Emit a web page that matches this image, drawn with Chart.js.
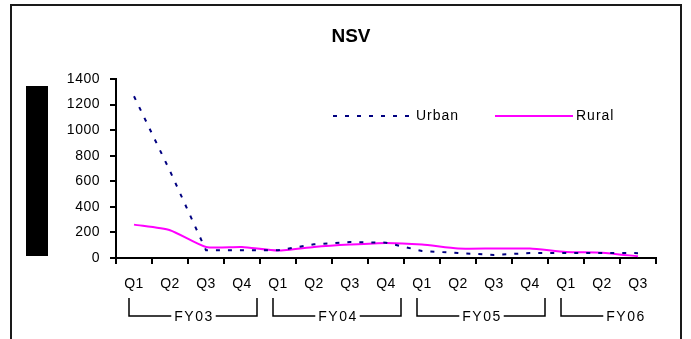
<!DOCTYPE html>
<html>
<head>
<meta charset="utf-8">
<title>NSV</title>
<script src="https://cdn.jsdelivr.net/npm/chart.js@4.4.1/dist/chart.umd.min.js"></script>
<style>
  body { margin: 0; background: #fff; }
  canvas { display: block; }
</style>
</head>
<body>
<canvas id="nsvChart" width="691" height="339"></canvas>
<script>
const quarters = ['Q1', 'Q2', 'Q3', 'Q4', 'Q1', 'Q2', 'Q3', 'Q4', 'Q1', 'Q2', 'Q3', 'Q4', 'Q1', 'Q2', 'Q3'];
const fiscalYears = ['FY03', 'FY04', 'FY05', 'FY06'];
const quartersPerYear = [4, 4, 4, 3];
const urbanValues = [1265, 680, 60, 60, 60, 107, 125, 120, 55, 39, 24, 39, 39, 40, 38];
const ruralValues = [261, 217, 86, 86, 58, 86, 105, 118, 105, 74, 74, 74, 47, 42, 13];
const yTicks = [0, 200, 400, 600, 800, 1000, 1200, 1400];

const FONT = 'Liberation Sans, Arial, sans-serif';
const ctx = document.getElementById('nsvChart').getContext('2d');

// white page, outer frame, the black block left of the axis, title
const framePlugin = {
    id: 'frame',
    beforeUpdate(chart) {
        chart.ctx.letterSpacing = '0.5px'; // excel text is drawn a bit wide
    },
    beforeDraw(chart) {
        const c = chart.ctx;
        c.save();
        c.fillStyle = '#fff';
        c.fillRect(0, 0, chart.width, chart.height);
        c.strokeStyle = '#1a1a1a';
        c.lineWidth = 2;
        c.strokeRect(11, 5, 670, 400);
        c.fillStyle = '#000';
        c.fillRect(26, 86, 22, 170);
        c.letterSpacing = '0px';
        c.font = 'bold 19px ' + FONT;
        c.textAlign = 'center';
        c.textBaseline = 'middle';
        c.fillText('NSV', 351, 37);
        c.restore();
    }
};

// legend sits inside the plot
const legendPlugin = {
    id: 'innerLegend',
    afterDraw(chart) {
        const c = chart.ctx;
        const items = [
            { ds: chart.data.datasets[0], x1: 333, x2: 410, tx: 416 },
            { ds: chart.data.datasets[1], x1: 495, x2: 573, tx: 576 }
        ];
        c.save();
        c.font = '14px ' + FONT;
        c.letterSpacing = '1px';
        c.textBaseline = 'middle';
        c.fillStyle = '#000';
        items.forEach((it) => {
            c.strokeStyle = it.ds.borderColor;
            c.lineWidth = 2;
            c.setLineDash(it.ds.borderDash || []);
            c.beginPath();
            c.moveTo(it.x1, 116);
            c.lineTo(it.x2, 116);
            c.stroke();
            c.fillText(it.ds.label, it.tx, 116);
        });
        c.restore();
    }
};

// second level of category labels with brackets
const yearPlugin = {
    id: 'yearLabels',
    afterDraw(chart) {
        const x = chart.scales.x;
        const step = x.getPixelForValue(1) - x.getPixelForValue(0);
        const c = chart.ctx;
        const top = 298, base = 316;
        c.save();
        c.font = '14px ' + FONT;
        c.letterSpacing = '1.5px';
        c.textAlign = 'center';
        c.textBaseline = 'middle';
        c.strokeStyle = '#000';
        c.fillStyle = '#000';
        c.lineWidth = 1.5;
        let start = 0;
        fiscalYears.forEach((name, i) => {
            const left = x.getPixelForValue(start) - step / 2 + 13;
            const right = x.getPixelForValue(start) - step / 2 + step * 4 - 3;
            const mid = (left + right) / 2;
            const w = c.measureText(name).width;
            c.beginPath();
            c.moveTo(left, top);
            c.lineTo(left, base);
            c.lineTo(mid - w / 2 - 2, base);
            if (quartersPerYear[i] === 4) {
                c.moveTo(mid + w / 2 + 3, base);
                c.lineTo(right, base);
                c.lineTo(right, top);
            }
            c.stroke();
            c.fillText(name, mid + 1, base + 1);
            start += quartersPerYear[i];
        });
        c.restore();
    }
};

const nsvChart = new Chart(ctx, {
    type: 'line',
    data: {
        labels: quarters,
        datasets: [{
            label: 'Urban',
            data: urbanValues,
            borderColor: '#000080',
            borderWidth: 2,
            borderDash: [4, 8],
            pointRadius: 0,
            tension: 0
        }, {
            label: 'Rural',
            data: ruralValues,
            borderColor: '#ff00ff',
            borderWidth: 2,
            pointRadius: 0,
            tension: 0.2
        }]
    },
    options: {
        responsive: false,
        devicePixelRatio: 1,
        animation: false,
        layout: { padding: { top: 79, right: 35, left: 0, bottom: 0 } },
        plugins: {
            legend: { display: false },
            title: { display: false },
            tooltip: { enabled: false }
        },
        scales: {
            x: {
                offset: true,
                grid: { offset: true, drawOnChartArea: false, tickLength: 6, color: '#000', lineWidth: 2 },
                border: { color: '#000', width: 2 },
                ticks: { color: '#000', font: { family: FONT, size: 14 }, padding: 12, maxRotation: 0, autoSkip: false },
                afterFit: (s) => { s.height = 81; }
            },
            y: {
                min: 0,
                max: 1400,
                afterBuildTicks: (s) => { s.ticks = yTicks.map((v) => ({ value: v })); },
                grid: { drawOnChartArea: false, tickLength: 6, color: '#000', lineWidth: 2 },
                border: { color: '#000', width: 2 },
                ticks: { color: '#000', font: { family: FONT, size: 14 }, padding: 10, callback: (v) => String(v) },
                afterFit: (s) => { s.width = 116; }
            }
        }
    },
    plugins: [framePlugin, legendPlugin, yearPlugin]
});
</script>
</body>
</html>
